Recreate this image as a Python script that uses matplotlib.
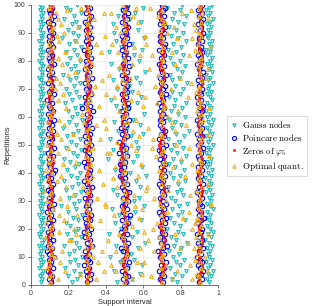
import matplotlib
matplotlib.use("Agg")
import matplotlib.pyplot as plt
import numpy as np

# repetition index (vertical axis)
reps = np.arange(1, 101)

# node positions per repetition, in thousandths of the support interval
gauss_nodes = [
    [52, 61, 48, 57, 66, 44, 55, 63, 50, 58, 47, 54, 62, 41, 59, 68, 51, 45, 56, 64,
     49, 58, 53, 66, 43, 60, 55, 47, 62, 51, 57, 46, 64, 52, 59, 42, 55, 67, 49, 61,
     53, 45, 58, 63, 48, 56, 71, 50, 44, 60, 55, 62, 47, 53, 66, 41, 58, 51, 64, 49,
     57, 44, 61, 52, 69, 48, 55, 63, 46, 59, 51, 65, 54, 43, 60, 57, 48, 62, 53, 45,
     58, 50, 67, 47, 55, 61, 44, 59, 52, 64, 49, 56, 62, 46, 58, 53, 65, 48, 57, 51],
    [218, 245, 196, 262, 231, 183, 254, 207, 238, 271, 201, 229, 258, 176, 243, 214, 266, 192, 235, 249,
     210, 187, 252, 226, 273, 198, 241, 163, 229, 256, 204, 237, 268, 189, 221, 250, 175, 244, 212, 263,
     195, 233, 257, 208, 178, 246, 224, 269, 186, 239, 215, 261, 193, 227, 252, 170, 240, 205, 274, 222,
     248, 199, 234, 266, 181, 219, 257, 203, 243, 190, 228, 264, 207, 242, 172, 253, 216, 236, 195, 260,
     211, 247, 185, 230, 270, 202, 238, 166, 251, 224, 197, 255, 220, 243, 176, 232, 267, 209, 188, 246],
    [462, 538, 507, 581, 443, 519, 596, 478, 553, 425, 534, 487, 572, 456, 609, 498, 541, 417, 565, 482,
     515, 448, 589, 527, 471, 556, 434, 602, 493, 548, 576, 459, 521, 440, 585, 503, 562, 476, 614, 528,
     451, 593, 486, 547, 412, 569, 508, 438, 574, 495, 559, 421, 533, 598, 467, 512, 580, 446, 545, 489,
     603, 474, 526, 453, 567, 430, 588, 509, 541, 460, 524, 583, 441, 559, 496, 612, 469, 535, 427, 577,
     490, 551, 418, 595, 480, 538, 455, 606, 513, 444, 571, 502, 437, 586, 529, 464, 555, 485, 599, 519],
    [781, 752, 808, 767, 829, 744, 795, 773, 816, 758, 790, 737, 802, 764, 833, 775, 748, 811, 786, 726,
     799, 762, 821, 741, 784, 806, 755, 792, 835, 769, 747, 813, 778, 801, 733, 788, 824, 760, 796, 743,
     819, 771, 738, 804, 757, 831, 780, 749, 812, 766, 793, 730, 817, 775, 845, 754, 800, 768, 739, 822,
     785, 746, 809, 762, 827, 772, 735, 798, 756, 814, 768, 836, 751, 789, 742, 807, 779, 823, 761, 797,
     744, 815, 776, 734, 802, 758, 828, 787, 750, 810, 773, 740, 818, 783, 756, 830, 765, 797, 729, 806],
    [953, 941, 962, 948, 970, 945, 957, 936, 966, 951, 944, 959, 938, 968, 952, 932, 961, 947, 973, 955,
     940, 964, 950, 935, 958, 943, 971, 954, 939, 962, 949, 967, 937, 956, 944, 963, 952, 930, 960, 946,
     969, 942, 955, 938, 964, 951, 933, 959, 947, 972, 945, 957, 936, 966, 953, 940, 961, 948, 975, 943,
     958, 934, 963, 950, 942, 968, 955, 939, 960, 947, 952, 971, 944, 957, 937, 965, 949, 962, 941, 954,
     966, 943, 958, 935, 961, 950, 969, 946, 938, 957, 948, 963, 940, 955, 972, 944, 959, 936, 953, 965],
]

poincare_nodes = [
    [108, 96, 112, 104, 91, 118, 100, 107, 95, 121, 99, 88, 110, 93, 104, 117, 97, 108, 90, 113,
     102, 92, 119, 98, 106, 88, 111, 96, 124, 103, 94, 115, 101, 89, 108, 120, 97, 105, 92, 116,
     128, 103, 95, 112, 99, 118, 91, 107, 122, 100, 94, 113, 106, 89, 119, 98, 110, 96, 124, 102,
     91, 117, 104, 97, 112, 88, 108, 121, 99, 106, 115, 93, 102, 119, 97, 111, 90, 106, 125, 101,
     96, 114, 103, 92, 118, 107, 99, 113, 94, 120, 104, 97, 116, 91, 109, 122, 100, 95, 112, 106],
    [297, 314, 301, 322, 293, 309, 286, 318, 303, 296, 312, 289, 306, 325, 298, 317, 291, 308, 284, 319,
     302, 295, 316, 288, 321, 299, 310, 293, 306, 315, 290, 318, 304, 295, 327, 300, 286, 313, 298, 309,
     315, 292, 306, 283, 319, 301, 311, 290, 305, 322, 296, 310, 288, 317, 302, 325, 293, 309, 297, 314,
     300, 331, 275, 318, 294, 307, 289, 320, 303, 296, 312, 291, 305, 324, 297, 310, 287, 316, 301, 293,
     319, 298, 308, 285, 314, 303, 292, 321, 299, 311, 294, 317, 302, 289, 309, 320, 296, 305, 313, 300],
    [509, 492, 518, 501, 487, 513, 496, 524, 490, 506, 515, 494, 483, 508, 520, 497, 488, 512, 479, 503,
     496, 519, 488, 506, 530, 492, 511, 485, 502, 517, 490, 509, 522, 497, 486, 514, 493, 505, 478, 500,
     483, 496, 475, 504, 488, 512, 470, 494, 507, 485, 468, 499, 515, 489, 503, 481, 510, 495, 526, 492,
     506, 484, 517, 498, 521, 490, 509, 487, 513, 500, 515, 493, 520, 506, 489, 511, 497, 525, 491, 504,
     518, 496, 509, 487, 502, 523, 494, 511, 489, 507, 495, 516, 502, 488, 511, 497, 519, 493, 506, 512],
    [706, 691, 713, 698, 684, 709, 695, 721, 700, 687, 712, 681, 703, 725, 694, 710, 688, 716, 699, 706,
     691, 715, 702, 724, 696, 683, 709, 698, 719, 704, 690, 713, 701, 722, 697, 686, 708, 693, 715, 700,
     711, 694, 718, 703, 689, 712, 697, 684, 705, 720, 698, 686, 709, 696, 714, 701, 688, 707, 692, 717,
     703, 690, 711, 695, 683, 708, 699, 719, 687, 704, 714, 697, 706, 689, 720, 701, 693, 710, 685, 705,
     695, 712, 700, 686, 709, 718, 692, 704, 689, 713, 699, 716, 688, 707, 694, 711, 684, 703, 715, 698],
    [898, 912, 895, 907, 920, 901, 893, 915, 904, 889, 910, 897, 918, 903, 891, 913, 900, 887, 909, 916,
     902, 894, 911, 923, 899, 906, 890, 914, 901, 897, 915, 903, 888, 910, 896, 919, 905, 892, 908, 900,
     913, 895, 906, 921, 899, 890, 911, 903, 917, 894, 907, 898, 914, 889, 902, 916, 896, 909, 885, 904,
     897, 912, 901, 918, 893, 906, 888, 910, 903, 915, 899, 908, 891, 913, 902, 920, 897, 905, 887, 911,
     904, 894, 916, 901, 909, 892, 913, 898, 906, 919, 901, 910, 895, 907, 917, 899, 912, 890, 905, 914],
]

zeros_phi5 = [
    [108, 111, 109, 104, 99, 95, 94, 97, 102, 107, 110, 108, 103, 97, 92, 90, 92, 97, 103, 108,
     111, 112, 109, 104, 98, 94, 93, 96, 101, 106, 110, 113, 114, 111, 106, 100, 96, 95, 98, 103,
     108, 112, 115, 116, 113, 108, 103, 100, 101, 105, 110, 114, 116, 114, 109, 104, 100, 98, 100, 105,
     110, 113, 112, 108, 103, 99, 97, 99, 104, 109, 113, 115, 113, 109, 104, 101, 102, 106, 111, 114,
     116, 115, 111, 106, 102, 100, 103, 108, 112, 113, 110, 106, 102, 100, 103, 108, 112, 113, 110, 107],
    [296, 299, 304, 309, 312, 310, 305, 299, 295, 294, 298, 304, 310, 314, 313, 308, 302, 296, 293, 295,
     300, 306, 311, 312, 308, 302, 296, 292, 292, 296, 302, 309, 314, 316, 313, 307, 301, 297, 297, 301,
     307, 311, 309, 304, 298, 293, 292, 296, 302, 309, 314, 315, 311, 305, 299, 295, 295, 299, 305, 310,
     312, 309, 303, 297, 293, 294, 299, 306, 312, 314, 311, 305, 299, 295, 295, 300, 306, 312, 314, 311,
     305, 299, 296, 297, 302, 308, 312, 311, 306, 301, 298, 299, 304, 310, 314, 313, 308, 302, 299, 301],
    [506, 510, 512, 509, 503, 497, 493, 492, 496, 502, 508, 512, 511, 506, 499, 493, 489, 490, 495, 501,
     507, 511, 510, 505, 498, 492, 490, 493, 499, 506, 511, 514, 512, 506, 499, 492, 486, 483, 482, 484,
     481, 478, 476, 479, 484, 489, 486, 481, 478, 480, 485, 491, 497, 500, 498, 493, 488, 486, 489, 494,
     500, 505, 508, 506, 501, 495, 491, 490, 493, 499, 505, 510, 513, 511, 505, 498, 493, 490, 492, 498,
     504, 508, 507, 502, 496, 491, 492, 497, 503, 509, 513, 511, 505, 499, 495, 494, 498, 504, 508, 506],
    [694, 690, 692, 698, 704, 709, 708, 702, 696, 691, 689, 692, 698, 705, 711, 714, 711, 705, 699, 694,
     692, 696, 703, 709, 712, 708, 702, 696, 691, 689, 693, 699, 706, 710, 709, 704, 698, 693, 691, 694,
     700, 707, 712, 714, 710, 704, 697, 691, 687, 686, 690, 696, 703, 709, 711, 707, 700, 694, 690, 689,
     692, 698, 705, 709, 707, 701, 695, 690, 687, 689, 694, 700, 707, 711, 709, 703, 697, 692, 690, 693,
     699, 706, 711, 709, 703, 697, 692, 688, 690, 696, 703, 707, 705, 699, 693, 689, 687, 690, 696, 701],
    [900, 896, 898, 904, 910, 914, 912, 906, 900, 896, 894, 897, 903, 910, 915, 916, 913, 907, 900, 896,
     897, 902, 909, 914, 912, 906, 900, 895, 893, 897, 903, 910, 914, 915, 911, 905, 900, 896, 895, 899,
     905, 911, 915, 916, 912, 906, 901, 898, 897, 901, 907, 912, 914, 910, 904, 899, 895, 894, 898, 904,
     910, 914, 915, 911, 905, 900, 896, 895, 899, 905, 911, 915, 913, 907, 901, 897, 895, 898, 904, 909,
     913, 915, 911, 905, 899, 895, 894, 898, 904, 910, 914, 915, 911, 906, 902, 901, 905, 909, 911, 907],
]

optimal_quant = [
    [103, 142, 96, 111, 183, 88, 104, 157, 99, 128, 107, 168, 92, 115, 99, 201, 74, 109, 151, 95,
     112, 80, 176, 101, 148, 94, 119, 192, 105, 84, 153, 97, 108, 72, 186, 102, 140, 91, 163, 110,
     79, 104, 174, 98, 116, 93, 145, 106, 197, 87, 113, 161, 96, 139, 101, 108, 178, 92, 150, 105,
     98, 117, 189, 103, 82, 146, 111, 171, 94, 127, 106, 156, 97, 134, 199, 101, 114, 89, 166, 108,
     143, 93, 181, 104, 118, 96, 152, 100, 138, 177, 109, 120, 160, 95, 147, 102, 132, 194, 99, 111],
    [298, 345, 312, 262, 391, 301, 306, 356, 293, 332, 309, 377, 296, 326, 314, 212, 303, 241, 297, 230,
     322, 308, 368, 299, 246, 311, 294, 399, 302, 315, 352, 226, 298, 307, 279, 384, 311, 295, 326, 303,
     363, 300, 319, 243, 309, 296, 405, 312, 331, 289, 312, 371, 301, 227, 295, 308, 349, 283, 390, 306,
     271, 304, 300, 361, 298, 317, 310, 402, 324, 296, 343, 297, 380, 307, 313, 236, 302, 291, 328, 304,
     260, 311, 372, 308, 299, 347, 239, 303, 396, 294, 317, 251, 306, 299, 336, 310, 388, 303, 266, 312],
    [496, 541, 503, 592, 455, 507, 430, 568, 489, 509, 511, 452, 583, 497, 503, 414, 493, 471, 604, 505,
     539, 498, 507, 578, 442, 502, 485, 556, 398, 513, 494, 549, 503, 615, 461, 498, 506, 437, 571, 492,
     504, 449, 588, 497, 476, 509, 423, 559, 501, 534, 458, 495, 575, 507, 547, 403, 499, 511, 562, 493,
     508, 469, 501, 597, 494, 536, 445, 503, 574, 499, 461, 506, 488, 528, 418, 497, 507, 475, 539, 502,
     498, 584, 464, 509, 551, 433, 496, 505, 609, 478, 503, 456, 497, 573, 508, 544, 426, 501, 562, 494],
    [698, 752, 641, 706, 781, 693, 723, 603, 702, 694, 707, 659, 798, 702, 695, 628, 684, 771, 709, 650,
     699, 676, 705, 813, 697, 727, 593, 703, 691, 720, 656, 704, 700, 731, 618, 693, 786, 708, 696, 707,
     683, 759, 701, 714, 802, 668, 697, 705, 648, 776, 711, 654, 699, 689, 767, 625, 702, 753, 696, 733,
     698, 784, 704, 718, 672, 706, 609, 693, 700, 748, 664, 703, 697, 795, 681, 709, 632, 699, 768, 706,
     701, 647, 756, 695, 708, 614, 704, 779, 697, 728, 690, 762, 703, 715, 698, 677, 808, 699, 634, 705],
    [903, 862, 897, 885, 940, 908, 848, 901, 876, 931, 892, 906, 869, 899, 837, 904, 881, 946, 899, 858,
     907, 874, 895, 889, 906, 842, 902, 895, 961, 896, 905, 851, 898, 884, 913, 947, 903, 899, 823, 909,
     887, 901, 859, 911, 896, 952, 897, 904, 845, 893, 902, 916, 893, 944, 898, 907, 830, 903, 919, 895,
     906, 889, 951, 899, 910, 895, 839, 904, 880, 896, 898, 857, 907, 935, 901, 902, 948, 894, 912, 890,
     911, 846, 899, 877, 957, 893, 905, 862, 906, 897, 881, 903, 870, 909, 944, 899, 913, 853, 896, 905],
]

x_ticks = [0, 0.2, 0.4, 0.6, 0.8, 1]
y_ticks = [0, 10, 20, 30, 40, 50, 60, 70, 80, 90, 100]

plt.rcParams['font.family'] = ['Liberation Sans', 'DejaVu Sans']
plt.rcParams['mathtext.fontset'] = 'cm'

fig = plt.figure(figsize=(3.29, 3.06), dpi=100)
ax = fig.add_axes([0.094, 0.069, 0.569, 0.915])

def scatter_series(data, **kw):
	label = kw.pop('label')
	for i, col in enumerate(data):
		ax.plot(np.array(col) / 1000.0, reps, linestyle='none',
		        label=label if i == 0 else None, **kw)

scatter_series(gauss_nodes, marker='v', ms=2.7, mfc='none', mec='#22b8b8', mew=0.8,
               label=r'$\mathrm{Gauss\ nodes}$')
scatter_series(poincare_nodes, marker='o', ms=3.2, mfc='none', mec='#0000ff', mew=0.8,
               label=r'$\mathrm{Poincare\ nodes}$')
scatter_series(zeros_phi5, marker='x', ms=1.8, mec='#ff0000', mew=0.8,
               label=r'$\mathrm{Zeros\ of}\ \varphi_5$')
scatter_series(optimal_quant, marker='^', ms=2.7, mfc='none', mec='#edb120', mew=0.8,
               label=r'$\mathrm{Optimal\ quant.}$')

ax.set_xlim(0, 1)
ax.set_ylim(0, 100)
ax.set_xticks(x_ticks)
ax.set_xticklabels(['0', '0.2', '0.4', '0.6', '0.8', '1'])
ax.set_yticks(y_ticks)
ax.tick_params(labelsize=5, length=2, width=0.5, colors='#404040', pad=2)
ax.grid(True, color='#e6e6e6', linewidth=0.5)
ax.set_axisbelow(True)
for s in ['top', 'right']:
	ax.spines[s].set_visible(False)
for s in ['left', 'bottom']:
	ax.spines[s].set_color('#404040')
	ax.spines[s].set_linewidth(0.5)

ax.set_xlabel('Support interval', fontsize=5.5, color='#262626', labelpad=1)
ax.set_ylabel('Repetitions', fontsize=5.5, color='#262626', labelpad=2)

leg = fig.legend(loc='center left', bbox_to_anchor=(0.69, 0.523),
                 prop={'size': 6.5}, markerscale=0.9,
                 frameon=True, fancybox=False, edgecolor='#bfbfbf',
                 handlelength=0.8, handletextpad=0.5, borderpad=0.35,
                 labelspacing=0.25, borderaxespad=0)
leg.get_frame().set_linewidth(0.5)

fig.savefig('out.png', dpi=100)
